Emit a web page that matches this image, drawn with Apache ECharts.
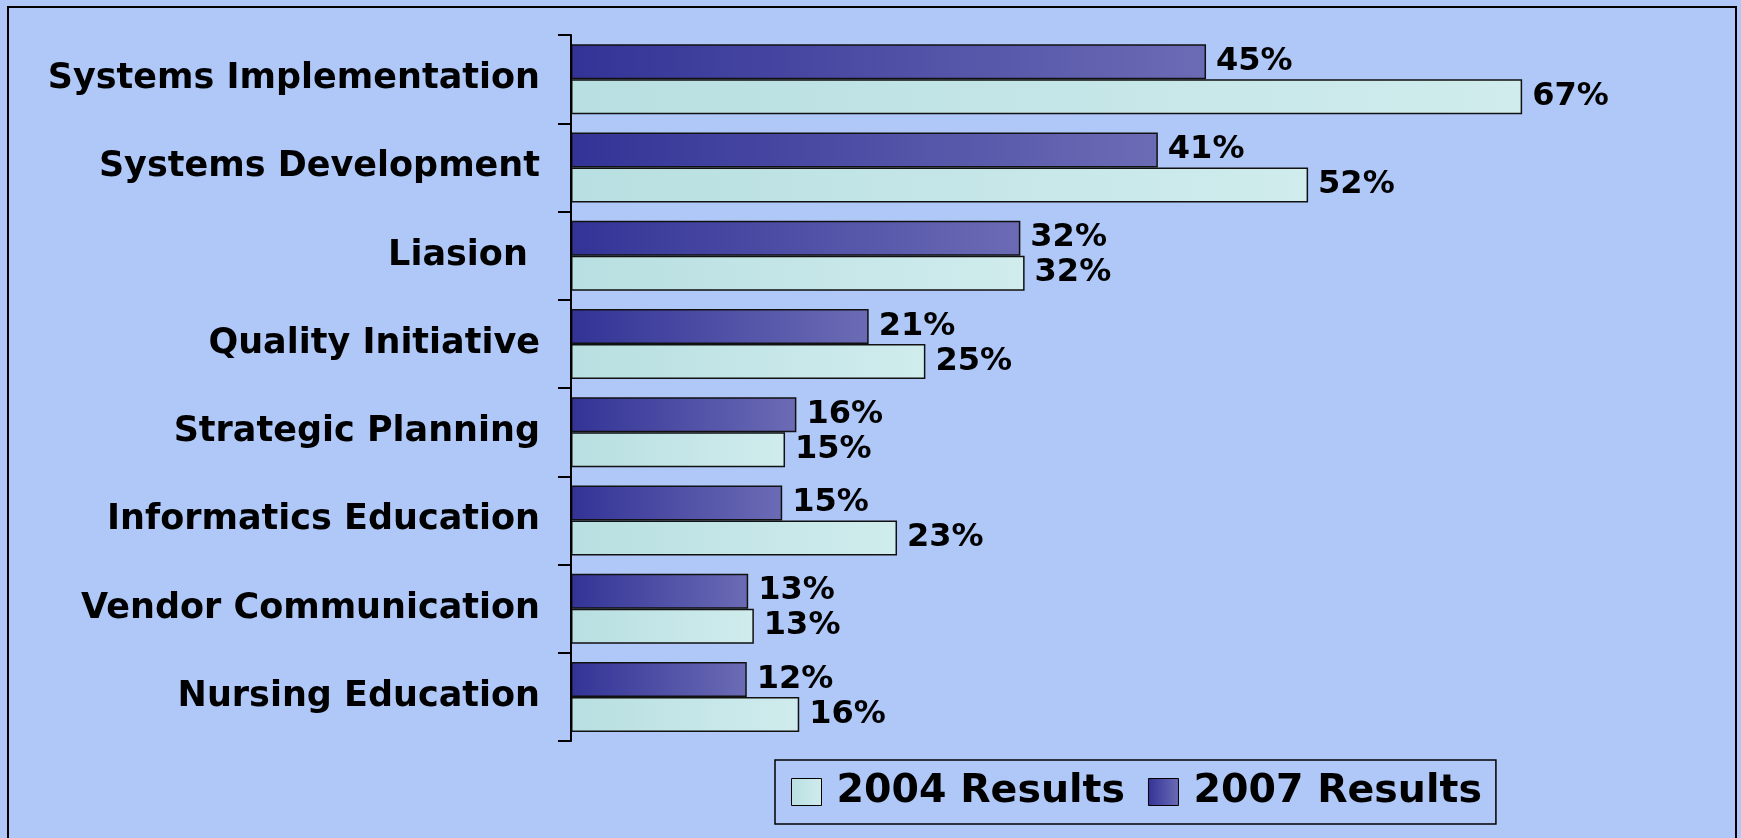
<!DOCTYPE html>
<html>
<head>
<meta charset="utf-8">
<script src="https://cdn.jsdelivr.net/npm/echarts@6/dist/echarts.min.js"></script>
<style>
  html, body { margin: 0; padding: 0; background: #AFC8F8; }
  #chart { width: 1741px; height: 838px; }
</style>
</head>
<body>
<div id="chart"></div>
<script>
// Categories, top to bottom
const categories = [
  'Systems Implementation',
  'Systems Development',
  'Liasion ',
  'Quality Initiative',
  'Strategic Planning',
  'Informatics Education',
  'Vendor Communication',
  'Nursing Education'
];
// Values (labels show them rounded)
const results2007 = [44.8, 41.4, 31.7, 21.0, 15.9, 14.9, 12.5, 12.4];
const results2004 = [67.1, 52.0, 32.0, 25.0, 15.1, 23.0, 12.9, 16.1];
const seriesNames = ['2004 Results', '2007 Results'];

const FONT = 'DejaVu Sans';

const darkGrad = new echarts.graphic.LinearGradient(0, 0, 1, 0, [
  { offset: 0, color: '#333397' },
  { offset: 1, color: '#6B6BB5' }
]);
const lightGrad = new echarts.graphic.LinearGradient(0, 0, 1, 0, [
  { offset: 0, color: '#B8DFE1' },
  { offset: 1, color: '#D0ECED' }
]);

const labelCfg = {
  show: true,
  position: 'right',
  distance: 10,
  color: '#000',
  fontFamily: FONT,
  fontWeight: 'bold',
  fontSize: 32,
  formatter: p => Math.round(p.value) + '%'
};

const chart = echarts.init(document.getElementById('chart'), null, { renderer: 'canvas' });
chart.setOption({
  backgroundColor: '#AFC8F8',
  animation: false,
  graphic: [{
    type: 'rect',
    shape: { x: 8, y: 7, width: 1728, height: 900 },
    style: { fill: 'none', stroke: '#000', lineWidth: 2 },
    silent: true,
    z: 0
  }],
  grid: { left: 571, right: 36, top: 35, bottom: 97, containLabel: false },
  legend: {
    data: seriesNames,
    left: 775,
    top: 760,
    orient: 'horizontal',
    padding: [10, 14, 10, 16],
    borderColor: '#000',
    borderWidth: 1.5,
    itemWidth: 30,
    itemHeight: 27,
    itemGap: 23,
    icon: 'rect',
    itemStyle: { borderColor: '#000', borderWidth: 1 },
    textStyle: {
      color: '#000',
      fontFamily: FONT,
      fontWeight: 'bold',
      fontSize: 39.5,
      lineHeight: 44,
      padding: [0, 0, 0, 10]
    }
  },
  xAxis: {
    type: 'value',
    min: 0,
    max: 80,
    show: false,
    splitLine: { show: false }
  },
  yAxis: {
    type: 'category',
    inverse: true,
    data: categories,
    axisLine: { show: true, lineStyle: { color: '#000', width: 2 } },
    axisTick: { show: true, length: 13, lineStyle: { color: '#000', width: 2 } },
    axisLabel: {
      margin: 31,
      color: '#000',
      fontFamily: FONT,
      fontWeight: 'bold',
      fontSize: 35
    },
    z: 5
  },
  series: [
    {
      name: '2007 Results',
      type: 'bar',
      data: results2007,
      barWidth: 35,
      barGap: '0%',
      itemStyle: { color: darkGrad, borderColor: '#111', borderWidth: 1.5 },
      label: labelCfg
    },
    {
      name: '2004 Results',
      type: 'bar',
      data: results2004,
      barWidth: 35,
      barGap: '0%',
      itemStyle: { color: lightGrad, borderColor: '#111', borderWidth: 1.5 },
      label: labelCfg
    }
  ]
});
</script>
</body>
</html>
